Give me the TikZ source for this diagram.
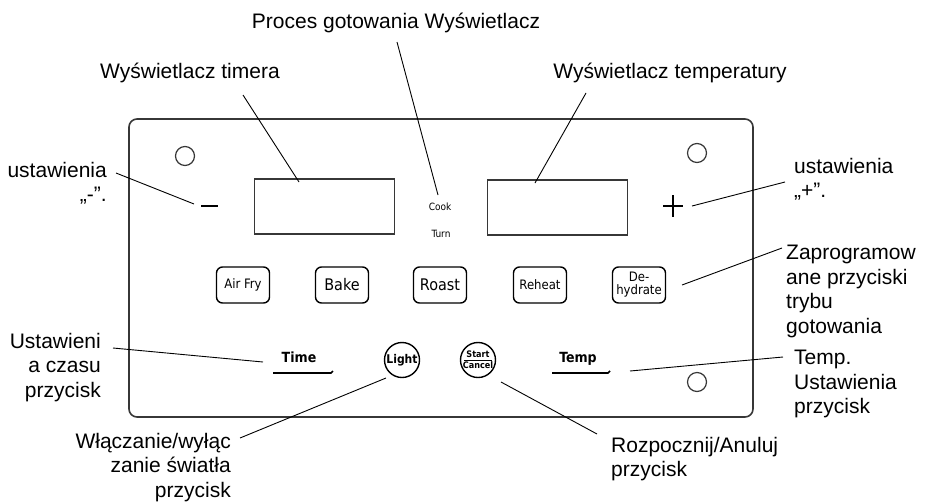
\documentclass[tikz,border=0pt]{standalone}
\usepackage{fontspec}
\setmainfont{Liberation Sans}
\newfontfamily\panelfont{DejaVu Sans}
\newfontfamily\condfont{DejaVu Sans Condensed}
\usetikzlibrary{positioning}
\definecolor{edgegray}{RGB}{55,55,55}

\begin{document}
\begin{tikzpicture}[x=1pt, y=-1pt,
    lbl/.style={font=\fontsize{21}{24.5}\selectfont, inner sep=0pt},
    lead/.style={draw=black, line width=0.9pt},
    panel/.style={rectangle, draw=edgegray, line width=1.6pt, rounded corners=8pt, minimum width=624pt, minimum height=298pt},
    screen/.style={rectangle, draw=edgegray, line width=1.2pt, minimum width=140pt, minimum height=55pt},
    hole/.style={circle, draw=edgegray, line width=1.2pt, minimum size=19pt, inner sep=0pt},
    modekey/.style={rectangle, draw=black, line width=1.4pt, rounded corners=6pt, minimum width=53pt, minimum height=36pt, inner sep=1pt, align=center, font=\condfont\fontsize{13}{12}\selectfont},
    knob/.style={circle, draw=black, line width=1.4pt, minimum size=35pt, inner sep=0pt, align=center},
    tag/.style={font=\condfont\bfseries\fontsize{14}{14}\selectfont, inner sep=0pt},
    small/.style={font=\condfont\fontsize{10}{10}\selectfont, inner sep=0pt}
]
\useasboundingbox (0,0) rectangle (928,501);
% Control panel
\node[panel]  at (441,268)   (panel)   {};
\node[hole]   at (185,156)   (holeA)   {};
\node[hole]   at (697,153)   (holeB)   {};
\node[hole]   at (697,382)   (holeC)   {};
\node[screen] at (324.5,206.5) (timer) {};
\node[screen] at (557.5,207.5) (temp)  {};
\node[small]  at (440,207)   (cook)    {Cook};
\node[small]  at (441,234)   (turn)    {Turn};
\node[inner sep=0pt, fill=black, minimum width=17pt, minimum height=2.2pt] at (209,206) (minus) {};
\node[inner sep=0pt, minimum width=19pt, minimum height=21pt] at (673,206) (plus) {};
\draw[line width=1.5pt] (plus.north) -- (plus.south) (plus.west) -- (plus.east);
% Mode keys
\node[modekey] at (243,285) (airfry)   {Air Fry};
\node[modekey, font=\condfont\fontsize{16}{16}\selectfont] at (342,285) (bake)  {Bake};
\node[modekey, font=\condfont\fontsize{16}{16}\selectfont] at (440,285) (roast) {Roast};
\node[modekey] at (540,285) (reheat)   {Reheat};
\node[modekey, font=\condfont\fontsize{13}{13}\selectfont] at (639,285) (dehydrate) {De-\\hydrate};
% Bottom row
\node[tag]  at (299,357) (time) {Time};
\coordinate (timeL) at (273,373);
\coordinate (timeR) at (331,373);
\draw[line width=1.6pt] (timeL) -- (timeR) -- ++(2,-2);
\node[tag]  at (578,359) (tempkey) {Temp};
\coordinate (tempL) at (552,373);
\coordinate (tempR) at (608,373);
\draw[line width=1.6pt] (tempL) -- (tempR) -- ++(2,-2);
\node[knob, font=\condfont\bfseries\fontsize{12}{12}\selectfont] at (402,360) (light) {Light};
\node[knob, font=\condfont\bfseries\fontsize{9}{11}\selectfont] at (478,360) (start) {Start\\Cancel};
\draw[line width=0.9pt] ([xshift=-14pt]start.center) -- ([xshift=14pt]start.center);

% Labels
\node[lbl, anchor=base] at (396,28) (title)    {Proces gotowania Wyświetlacz};
\node[lbl, anchor=base] at (190,78) (timerlbl) {Wyświetlacz timera};
\node[lbl, anchor=base] at (670,78) (templbl)  {Wyświetlacz temperatury};
\node[lbl, align=right, anchor=north east] at (107,162) (minuslbl) {ustawienia\\„-”.};
\node[lbl, align=left,  anchor=north west] at (794,158) (pluslbl)  {ustawienia\\„+”.};
\node[lbl, align=left,  anchor=north west] at (786,245) (modelbl)  {Zaprogramow\\ane przyciski\\trybu\\gotowania};
\node[lbl, align=right, anchor=north east] at (101,333) (timelbl)  {Ustawieni\\a czasu\\przycisk};
\node[lbl, align=left,  anchor=north west] at (794,350) (tempklbl) {Temp.\\Ustawienia\\przycisk};
\node[lbl, align=right, anchor=north east] at (231,433) (lightlbl) {Włączanie/wyłąc\\zanie światła\\przycisk};
\node[lbl, align=left,  anchor=north west] at (611,437) (startlbl) {Rozpocznij/Anuluj\\przycisk};

% Leader ends
\coordinate (titleFoot) at (397,42);   \coordinate (cookTip)  at (438,195);
\coordinate (timerFoot) at (243,95);   \coordinate (timerTip) at (299,182);
\coordinate (tempFoot)  at (586,93);   \coordinate (tempTip)  at (535,183);
\coordinate (minusFoot) at (116,173);  \coordinate (minusTip) at (194,204);
\coordinate (plusFoot)  at (785,182);  \coordinate (plusTip)  at (692,206);
\coordinate (modeFoot)  at (782,248);  \coordinate (modeTip)  at (682,285);
\coordinate (timeFoot)  at (113,348);  \coordinate (timeTip)  at (263,362);
\coordinate (tkFoot)    at (783,357);  \coordinate (tkTip)    at (630,371);
\coordinate (lightFoot) at (240,438);  \coordinate (lightTip) at (386,378);
\coordinate (startFoot) at (597,434);  \coordinate (startTip) at (501,382);

\draw[lead] (titleFoot) -- (cookTip);
\draw[lead] (timerFoot) -- (timerTip);
\draw[lead] (tempFoot)  -- (tempTip);
\draw[lead] (minusFoot) -- (minusTip);
\draw[lead] (plusFoot)  -- (plusTip);
\draw[lead] (modeFoot)  -- (modeTip);
\draw[lead] (timeFoot)  -- (timeTip);
\draw[lead] (tkFoot)    -- (tkTip);
\draw[lead] (lightFoot) -- (lightTip);
\draw[lead] (startFoot) -- (startTip);
\end{tikzpicture}
\end{document}
